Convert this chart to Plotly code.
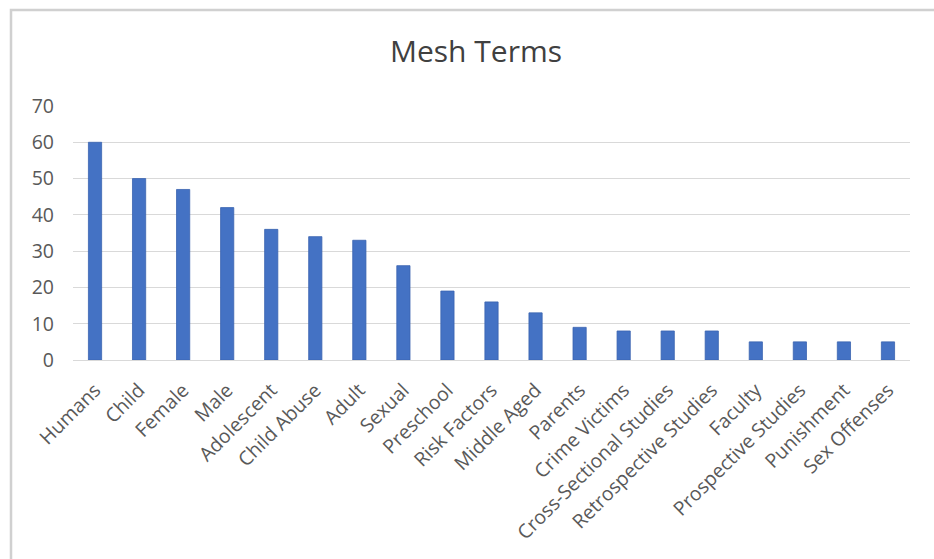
import plotly.graph_objects as go

# Mesh term frequencies
terms = ["Humans", "Child", "Female", "Male", "Adolescent", "Child Abuse", "Adult",
         "Sexual", "Preschool", "Risk Factors", "Middle Aged", "Parents",
         "Crime Victims", "Cross-Sectional Studies", "Retrospective Studies",
         "Faculty", "Prospective Studies", "Punishment", "Sex Offenses"]
counts = [60, 50, 47, 42, 36, 34, 33, 26, 19, 16, 13, 9, 8, 8, 8, 5, 5, 5, 5]
y_ticks = [0, 10, 20, 30, 40, 50, 60, 70]

BAR = "#4472C4"
GRID = "#D9D9D9"
TEXT = "#595959"
FONT = "Open Sans"

fig = go.Figure(go.Bar(
    x=terms, y=counts,
    marker=dict(color=BAR, line=dict(color="#3A63B0", width=0.8)),
    width=0.3,
))

W, H = 934, 559
L, R, T, B = 73, 24, 106, 199
pw, ph = W - L - R, H - T - B

def px_x(p):
    return (p - L) / pw

def px_y(p):
    return (H - B - p) / ph

fig.update_layout(
    width=W, height=H,
    margin=dict(l=L, r=R, t=T, b=B, autoexpand=False),
    paper_bgcolor="white", plot_bgcolor="white",
    showlegend=False,
    title=dict(text="Mesh Terms", x=476 / W, xref="container", xanchor="center",
               y=1 - 51 / H, yanchor="middle",
               font=dict(family=FONT, size=30, color="#404040")),
    font=dict(family=FONT, color=TEXT),
    xaxis=dict(tickangle=-45, tickfont=dict(size=19.5, color=TEXT),
               showgrid=False, showline=True, linecolor=GRID, linewidth=1.2,
               ticks="", automargin=False, ticklabelstandoff=10),
    yaxis=dict(range=[0, 70], tickvals=y_ticks, tickfont=dict(size=19.5, color=TEXT),
               showgrid=True, gridcolor=GRID, gridwidth=1.2, zeroline=False,
               showline=False, ticks="", automargin=False, ticklabelstandoff=18),
    shapes=[dict(type="rect", xref="paper", yref="paper",
                 x0=px_x(11), x1=px_x(W + 20), y0=px_y(H + 20), y1=px_y(10),
                 line=dict(color="#D0D0D0", width=2.5), layer="below")],
)

fig.write_html("out.html")
